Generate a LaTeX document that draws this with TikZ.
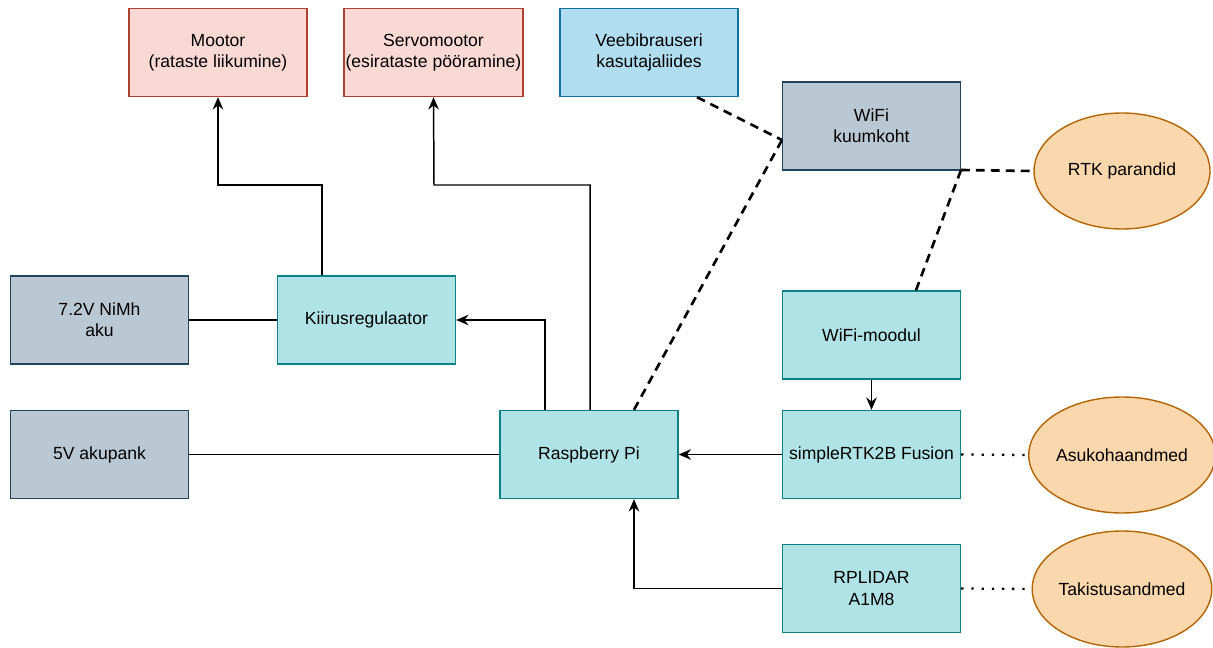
\documentclass[tikz,border=0pt]{standalone}
\usepackage{fontspec}
\setmainfont{Liberation Sans}
\usetikzlibrary{shapes.geometric,arrows.meta}
\definecolor{pinkf}{HTML}{FAD9D5}\definecolor{pinkd}{HTML}{AE4132}
\definecolor{bluef}{HTML}{B1DDF0}\definecolor{blued}{HTML}{10739E}
\definecolor{greyf}{HTML}{BAC8D3}\definecolor{greyd}{HTML}{23445D}
\definecolor{tealf}{HTML}{B0E3E6}\definecolor{teald}{HTML}{0E8088}
\definecolor{orf}{HTML}{FAD7AC}\definecolor{ord}{HTML}{B46504}
\tikzset{
  box/.style={rectangle,draw,line width=0.8pt,minimum width=178*0.02cm,minimum height=88*0.02cm,align=center,font=\fontsize{10}{12}\selectfont,inner sep=1pt},
  pinkbox/.style={box,fill=pinkf,draw=pinkd},
  bluebox/.style={box,fill=bluef,draw=blued},
  greybox/.style={box,fill=greyf,draw=greyd},
  tealbox/.style={box,fill=tealf,draw=teald},
  oval/.style={ellipse,draw=ord,fill=orf,line width=0.8pt,minimum width=176*0.02cm,minimum height=116*0.02cm,inner sep=0pt,font=\fontsize{10}{12}\selectfont},
  conn/.style={line width=0.85pt},
  arr/.style={conn,-{Stealth[length=7pt,width=6pt]}},
  wless/.style={line width=1.5pt,dash pattern=on 5pt off 3.5pt},
  dotline/.style={line width=1.3pt,dash pattern=on 1.3pt off 4.5pt}
}
\begin{document}
\begin{tikzpicture}[x=0.02cm,y=-0.02cm]
\useasboundingbox (0,0) rectangle (1213,648);
\node[pinkbox] (mot) at (218,52.5) {Mootor\\(rataste liikumine)};
\node[pinkbox] (servo) at (433.5,52.5) {Servomootor\\(esirataste pööramine)};
\node[bluebox] (web) at (649,52.5) {Veebibrauseri\\kasutajaliides};
\node[greybox] (hot) at (871.5,126) {WiFi\\kuumkoht};
\node[oval] (rtk) at (1122,171) {RTK parandid};
\node[greybox] (bat7) at (99.5,320) {7.2V NiMh\\aku};
\node[tealbox] (esc) at (366.5,320) {Kiirusregulaator};
\node[tealbox] (wmod) at (871.5,335) {WiFi-moodul};
\node[greybox] (bat5) at (99.5,454.5) {5V akupank};
\node[tealbox] (rpi) at (589,454.5) {Raspberry Pi};
\node[tealbox] (gnss) at (871.5,454.5) {simpleRTK2B Fusion};
\node[oval] (pos) at (1122,455) {Asukohaandmed};
\node[tealbox] (lidar) at (871.5,588.5) {RPLIDAR\\A1M8};
\node[oval] (obs) at (1122,589) {Takistusandmed};

\coordinate (hotL) at (782,140);
\coordinate (hotBR) at (961,170);
% solid connectors
\draw[arr] (esc.north -| 322,0) |- (218,185) -- (mot.south);
\draw[arr] (rpi.north -| 590,0) |- (434,185) -- (servo.south);
\draw[arr] (rpi.north -| 545,0) |- (esc.east);
\draw[conn] (bat7.east) -- (esc.west);
\draw[conn] (bat5.east) -- (rpi.west);
\draw[arr] (gnss.west) -- (rpi.east);
\draw[arr] (lidar.west) -| (rpi.south -| 634,0);
\draw[arr] (wmod.south) -- (gnss.north);
% dashed wireless
\draw[wless] (web.south -| 697,0) -- (hotL);
\draw[wless] (rpi.north -| 634,0) -- (hotL);
\draw[wless] (wmod.north -| 916,0) -- (hotBR);
\draw[wless] (hotBR) -- (rtk.west);
% dotted data
\draw[dotline] (gnss.east) -- (pos.west);
\draw[dotline] (lidar.east) -- (obs.west);
\end{tikzpicture}
\end{document}
